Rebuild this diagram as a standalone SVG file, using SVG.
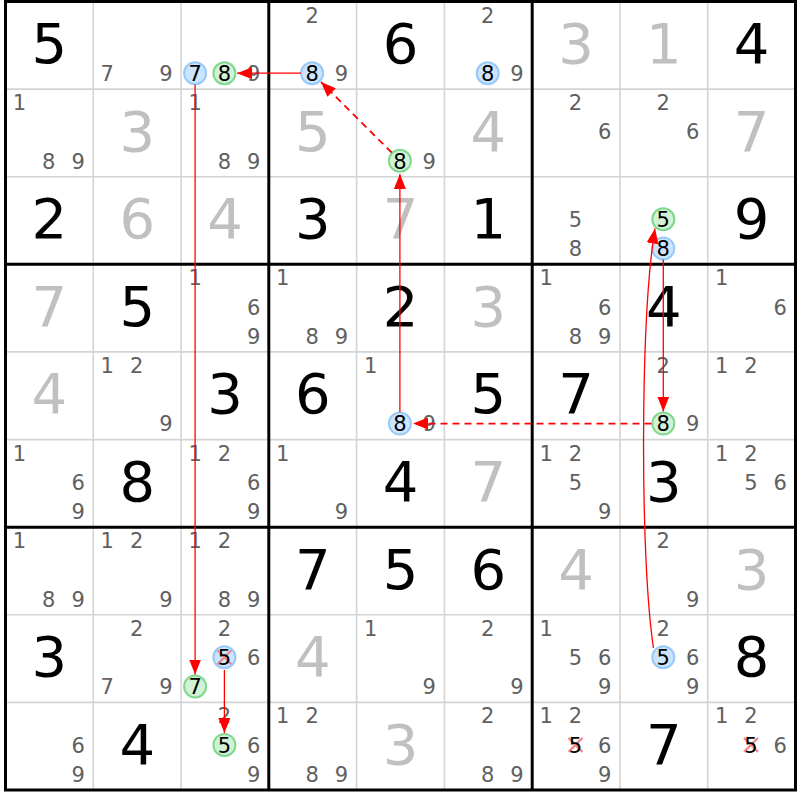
<svg xmlns="http://www.w3.org/2000/svg" width="800" height="800" viewBox="0 0 800 800">
<defs>
<style>
text{font-family:"DejaVu Sans","Liberation Sans",sans-serif;text-anchor:middle}
.g{font-size:56px;fill:#000}
.s{font-size:56px;fill:#c0c0c0}
.c{font-size:21px;fill:#606060}
.h{font-size:21px;fill:#000}
.thin{stroke:#d4d4d4;stroke-width:1.6}
.thick{stroke:#000;stroke-width:3;fill:none}
.cb{fill:#cce4ff;stroke:#99c9f5;stroke-width:2}
.cg{fill:#d2f2d6;stroke:#7fd88e;stroke-width:2}
.x{stroke:#f08a8a;stroke-width:2.2}
.ln{stroke:#ff0000;stroke-width:1.3;fill:none;marker-end:url(#ah)}
.ds{stroke-dasharray:7 5;stroke-width:1.8}
</style>
<marker id="ah" markerWidth="15" markerHeight="12" refX="15" refY="6" orient="auto" markerUnits="userSpaceOnUse">
<path d="M0,0 L15,6 L0,12 z" fill="#ff0000"/>
</marker>
</defs>
<rect width="800" height="800" fill="#fff"/>
<g id="grid">
<g class="thin">
<line x1="93.3" y1="1.5" x2="93.3" y2="790"/><line x1="181.1" y1="1.5" x2="181.1" y2="790"/>
<line x1="356.6" y1="1.5" x2="356.6" y2="790"/><line x1="444.4" y1="1.5" x2="444.4" y2="790"/>
<line x1="620" y1="1.5" x2="620" y2="790"/><line x1="707.7" y1="1.5" x2="707.7" y2="790"/>
<line x1="5.5" y1="89.1" x2="795.5" y2="89.1"/><line x1="5.5" y1="176.7" x2="795.5" y2="176.7"/>
<line x1="5.5" y1="351.9" x2="795.5" y2="351.9"/><line x1="5.5" y1="439.6" x2="795.5" y2="439.6"/>
<line x1="5.5" y1="614.8" x2="795.5" y2="614.8"/><line x1="5.5" y1="702.4" x2="795.5" y2="702.4"/>
</g>
<g class="thick">
<line x1="268.8" y1="1.5" x2="268.8" y2="790"/><line x1="532.2" y1="1.5" x2="532.2" y2="790"/>
<line x1="5.5" y1="264.3" x2="795.5" y2="264.3"/><line x1="5.5" y1="527.2" x2="795.5" y2="527.2"/>
<rect x="5.5" y="1.5" width="790" height="788.5"/>
</g>
</g>
<g id="r0c0"><text class="g" x="49.4" y="62.9">5</text></g>
<g id="r0c1"><text class="c" x="107.3" y="80.9">7</text><text class="c" x="165.9" y="80.9">9</text></g>
<g id="r0c2"><circle class="cb" cx="195.1" cy="73.2" r="11"/><circle class="cg" cx="224.4" cy="73.2" r="11"/><text class="h" x="195.1" y="80.9">7</text><text class="h" x="224.4" y="80.9">8</text><text class="c" x="253.7" y="80.9">9</text></g>
<g id="r0c3"><circle class="cb" cx="312.1" cy="73.2" r="11"/><text class="c" x="312.1" y="22.5">2</text><text class="h" x="312.1" y="80.9">8</text><text class="c" x="341.4" y="80.9">9</text></g>
<g id="r0c4"><text class="g" x="400.5" y="62.9">6</text></g>
<g id="r0c5"><circle class="cb" cx="487.7" cy="73.2" r="11"/><text class="c" x="487.7" y="22.5">2</text><text class="h" x="487.7" y="80.9">8</text><text class="c" x="517" y="80.9">9</text></g>
<g id="r0c6"><text class="s" x="576.1" y="62.9">3</text></g>
<g id="r0c7"><text class="s" x="663.9" y="62.9">1</text></g>
<g id="r0c8"><text class="g" x="751.6" y="62.9">4</text></g>

<g id="r1c0"><text class="c" x="19.5" y="110.1">1</text><text class="c" x="48.8" y="168.5">8</text><text class="c" x="78.1" y="168.5">9</text></g>
<g id="r1c1"><text class="s" x="137.2" y="150.5">3</text></g>
<g id="r1c2"><text class="c" x="195.1" y="110.1">1</text><text class="c" x="224.4" y="168.5">8</text><text class="c" x="253.7" y="168.5">9</text></g>
<g id="r1c3"><text class="s" x="312.7" y="150.5">5</text></g>
<g id="r1c4"><circle class="cg" cx="399.9" cy="160.8" r="11"/><text class="h" x="399.9" y="168.5">8</text><text class="c" x="429.2" y="168.5">9</text></g>
<g id="r1c5"><text class="s" x="488.3" y="150.5">4</text></g>
<g id="r1c6"><text class="c" x="575.5" y="110.1">2</text><text class="c" x="604.8" y="139.3">6</text></g>
<g id="r1c7"><text class="c" x="663.3" y="110.1">2</text><text class="c" x="692.6" y="139.3">6</text></g>
<g id="r1c8"><text class="s" x="751.6" y="150.5">7</text></g>

<g id="r2c0"><text class="g" x="49.4" y="238.1">2</text></g>
<g id="r2c1"><text class="s" x="137.2" y="238.1">6</text></g>
<g id="r2c2"><text class="s" x="225" y="238.1">4</text></g>
<g id="r2c3"><text class="g" x="312.7" y="238.1">3</text></g>
<g id="r2c4"><text class="s" x="400.5" y="238.1">7</text></g>
<g id="r2c5"><text class="g" x="488.3" y="238.1">1</text></g>
<g id="r2c6"><text class="c" x="575.5" y="226.9">5</text><text class="c" x="575.5" y="256.1">8</text></g>
<g id="r2c7"><circle class="cg" cx="663.3" cy="219.2" r="11"/><circle class="cb" cx="663.3" cy="248.4" r="11"/><text class="h" x="663.3" y="226.9">5</text><text class="h" x="663.3" y="256.1">8</text></g>
<g id="r2c8"><text class="g" x="751.6" y="238.1">9</text></g>

<g id="r3c0"><text class="s" x="49.4" y="325.7">7</text></g>
<g id="r3c1"><text class="g" x="137.2" y="325.7">5</text></g>
<g id="r3c2"><text class="c" x="195.1" y="285.3">1</text><text class="c" x="253.7" y="314.5">6</text><text class="c" x="253.7" y="343.7">9</text></g>
<g id="r3c3"><text class="c" x="282.8" y="285.3">1</text><text class="c" x="312.1" y="343.7">8</text><text class="c" x="341.4" y="343.7">9</text></g>
<g id="r3c4"><text class="g" x="400.5" y="325.7">2</text></g>
<g id="r3c5"><text class="s" x="488.3" y="325.7">3</text></g>
<g id="r3c6"><text class="c" x="546.2" y="285.3">1</text><text class="c" x="604.8" y="314.5">6</text><text class="c" x="575.5" y="343.7">8</text><text class="c" x="604.8" y="343.7">9</text></g>
<g id="r3c7"><text class="g" x="663.9" y="325.7">4</text></g>
<g id="r3c8"><text class="c" x="721.7" y="285.3">1</text><text class="c" x="780.3" y="314.5">6</text></g>

<g id="r4c0"><text class="s" x="49.4" y="413.3">4</text></g>
<g id="r4c1"><text class="c" x="107.3" y="372.9">1</text><text class="c" x="136.6" y="372.9">2</text><text class="c" x="165.9" y="431.3">9</text></g>
<g id="r4c2"><text class="g" x="225" y="413.3">3</text></g>
<g id="r4c3"><text class="g" x="312.7" y="413.3">6</text></g>
<g id="r4c4"><circle class="cb" cx="399.9" cy="423.6" r="11"/><text class="c" x="370.6" y="372.9">1</text><text class="h" x="399.9" y="431.3">8</text><text class="c" x="429.2" y="431.3">9</text></g>
<g id="r4c5"><text class="g" x="488.3" y="413.3">5</text></g>
<g id="r4c6"><text class="g" x="576.1" y="413.3">7</text></g>
<g id="r4c7"><circle class="cg" cx="663.3" cy="423.6" r="11"/><text class="c" x="663.3" y="372.9">2</text><text class="h" x="663.3" y="431.3">8</text><text class="c" x="692.6" y="431.3">9</text></g>
<g id="r4c8"><text class="c" x="721.7" y="372.9">1</text><text class="c" x="751" y="372.9">2</text></g>

<g id="r5c0"><text class="c" x="19.5" y="460.6">1</text><text class="c" x="78.1" y="489.8">6</text><text class="c" x="78.1" y="519">9</text></g>
<g id="r5c1"><text class="g" x="137.2" y="501">8</text></g>
<g id="r5c2"><text class="c" x="195.1" y="460.6">1</text><text class="c" x="224.4" y="460.6">2</text><text class="c" x="253.7" y="489.8">6</text><text class="c" x="253.7" y="519">9</text></g>
<g id="r5c3"><text class="c" x="282.8" y="460.6">1</text><text class="c" x="341.4" y="519">9</text></g>
<g id="r5c4"><text class="g" x="400.5" y="501">4</text></g>
<g id="r5c5"><text class="s" x="488.3" y="501">7</text></g>
<g id="r5c6"><text class="c" x="546.2" y="460.6">1</text><text class="c" x="575.5" y="460.6">2</text><text class="c" x="575.5" y="489.8">5</text><text class="c" x="604.8" y="519">9</text></g>
<g id="r5c7"><text class="g" x="663.9" y="501">3</text></g>
<g id="r5c8"><text class="c" x="721.7" y="460.6">1</text><text class="c" x="751" y="460.6">2</text><text class="c" x="751" y="489.8">5</text><text class="c" x="780.3" y="489.8">6</text></g>

<g id="r6c0"><text class="c" x="19.5" y="548.2">1</text><text class="c" x="48.8" y="606.6">8</text><text class="c" x="78.1" y="606.6">9</text></g>
<g id="r6c1"><text class="c" x="107.3" y="548.2">1</text><text class="c" x="136.6" y="548.2">2</text><text class="c" x="165.9" y="606.6">9</text></g>
<g id="r6c2"><text class="c" x="195.1" y="548.2">1</text><text class="c" x="224.4" y="548.2">2</text><text class="c" x="224.4" y="606.6">8</text><text class="c" x="253.7" y="606.6">9</text></g>
<g id="r6c3"><text class="g" x="312.7" y="588.6">7</text></g>
<g id="r6c4"><text class="g" x="400.5" y="588.6">5</text></g>
<g id="r6c5"><text class="g" x="488.3" y="588.6">6</text></g>
<g id="r6c6"><text class="s" x="576.1" y="588.6">4</text></g>
<g id="r6c7"><text class="c" x="663.3" y="548.2">2</text><text class="c" x="692.6" y="606.6">9</text></g>
<g id="r6c8"><text class="s" x="751.6" y="588.6">3</text></g>

<g id="r7c0"><text class="g" x="49.4" y="676.2">3</text></g>
<g id="r7c1"><text class="c" x="136.6" y="635.8">2</text><text class="c" x="107.3" y="694.2">7</text><text class="c" x="165.9" y="694.2">9</text></g>
<g id="r7c2"><circle class="cb" cx="224.4" cy="657.3" r="11"/><circle class="cg" cx="195.1" cy="686.5" r="11"/><path class="x" d="M217.4,650.3 L231.4,664.3 M231.4,650.3 L217.4,664.3"/><text class="c" x="224.4" y="635.8">2</text><text class="h" x="224.4" y="665">5</text><text class="c" x="253.7" y="665">6</text><text class="h" x="195.1" y="694.2">7</text></g>
<g id="r7c3"><text class="s" x="312.7" y="676.2">4</text></g>
<g id="r7c4"><text class="c" x="370.6" y="635.8">1</text><text class="c" x="429.2" y="694.2">9</text></g>
<g id="r7c5"><text class="c" x="487.7" y="635.8">2</text><text class="c" x="517" y="694.2">9</text></g>
<g id="r7c6"><text class="c" x="546.2" y="635.8">1</text><text class="c" x="575.5" y="665">5</text><text class="c" x="604.8" y="665">6</text><text class="c" x="604.8" y="694.2">9</text></g>
<g id="r7c7"><circle class="cb" cx="663.3" cy="657.3" r="11"/><text class="c" x="663.3" y="635.8">2</text><text class="h" x="663.3" y="665">5</text><text class="c" x="692.6" y="665">6</text><text class="c" x="692.6" y="694.2">9</text></g>
<g id="r7c8"><text class="g" x="751.6" y="676.2">8</text></g>

<g id="r8c0"><text class="c" x="78.1" y="752.6">6</text><text class="c" x="78.1" y="781.8">9</text></g>
<g id="r8c1"><text class="g" x="137.2" y="763.8">4</text></g>
<g id="r8c2"><circle class="cg" cx="224.4" cy="744.9" r="11"/><text class="c" x="224.4" y="723.4">2</text><text class="h" x="224.4" y="752.6">5</text><text class="c" x="253.7" y="752.6">6</text><text class="c" x="253.7" y="781.8">9</text></g>
<g id="r8c3"><text class="c" x="282.8" y="723.4">1</text><text class="c" x="312.1" y="723.4">2</text><text class="c" x="312.1" y="781.8">8</text><text class="c" x="341.4" y="781.8">9</text></g>
<g id="r8c4"><text class="s" x="400.5" y="763.8">3</text></g>
<g id="r8c5"><text class="c" x="487.7" y="723.4">2</text><text class="c" x="487.7" y="781.8">8</text><text class="c" x="517" y="781.8">9</text></g>
<g id="r8c6"><path class="x" d="M568.5,737.9 L582.5,751.9 M582.5,737.9 L568.5,751.9"/><text class="c" x="546.2" y="723.4">1</text><text class="c" x="575.5" y="723.4">2</text><text class="h" x="575.5" y="752.6">5</text><text class="c" x="604.8" y="752.6">6</text><text class="c" x="604.8" y="781.8">9</text></g>
<g id="r8c7"><text class="g" x="663.9" y="763.8">7</text></g>
<g id="r8c8"><path class="x" d="M744,737.9 L758,751.9 M758,737.9 L744,751.9"/><text class="c" x="721.7" y="723.4">1</text><text class="c" x="751" y="723.4">2</text><text class="h" x="751" y="752.6">5</text><text class="c" x="780.3" y="752.6">6</text></g>

<g id="connectors">
<line class="ln" x1="301" y1="73.2" x2="237" y2="73.2"/>
<line class="ln ds" x1="391.8" y1="152.7" x2="321" y2="82"/>
<line class="ln" x1="399.9" y1="412" x2="399.9" y2="174"/>
<line class="ln ds" x1="651.5" y1="423.6" x2="413" y2="423.6"/>
<line class="ln" x1="663.3" y1="259.5" x2="663.3" y2="411.5"/>
<path class="ln" d="M653.5,648 C640,560 640,320 655,228.5"/>
<line class="ln" x1="195.1" y1="84.5" x2="195.1" y2="674.5"/>
<line class="ln" x1="224.4" y1="670" x2="224.4" y2="733"/>
</g>
</svg>
